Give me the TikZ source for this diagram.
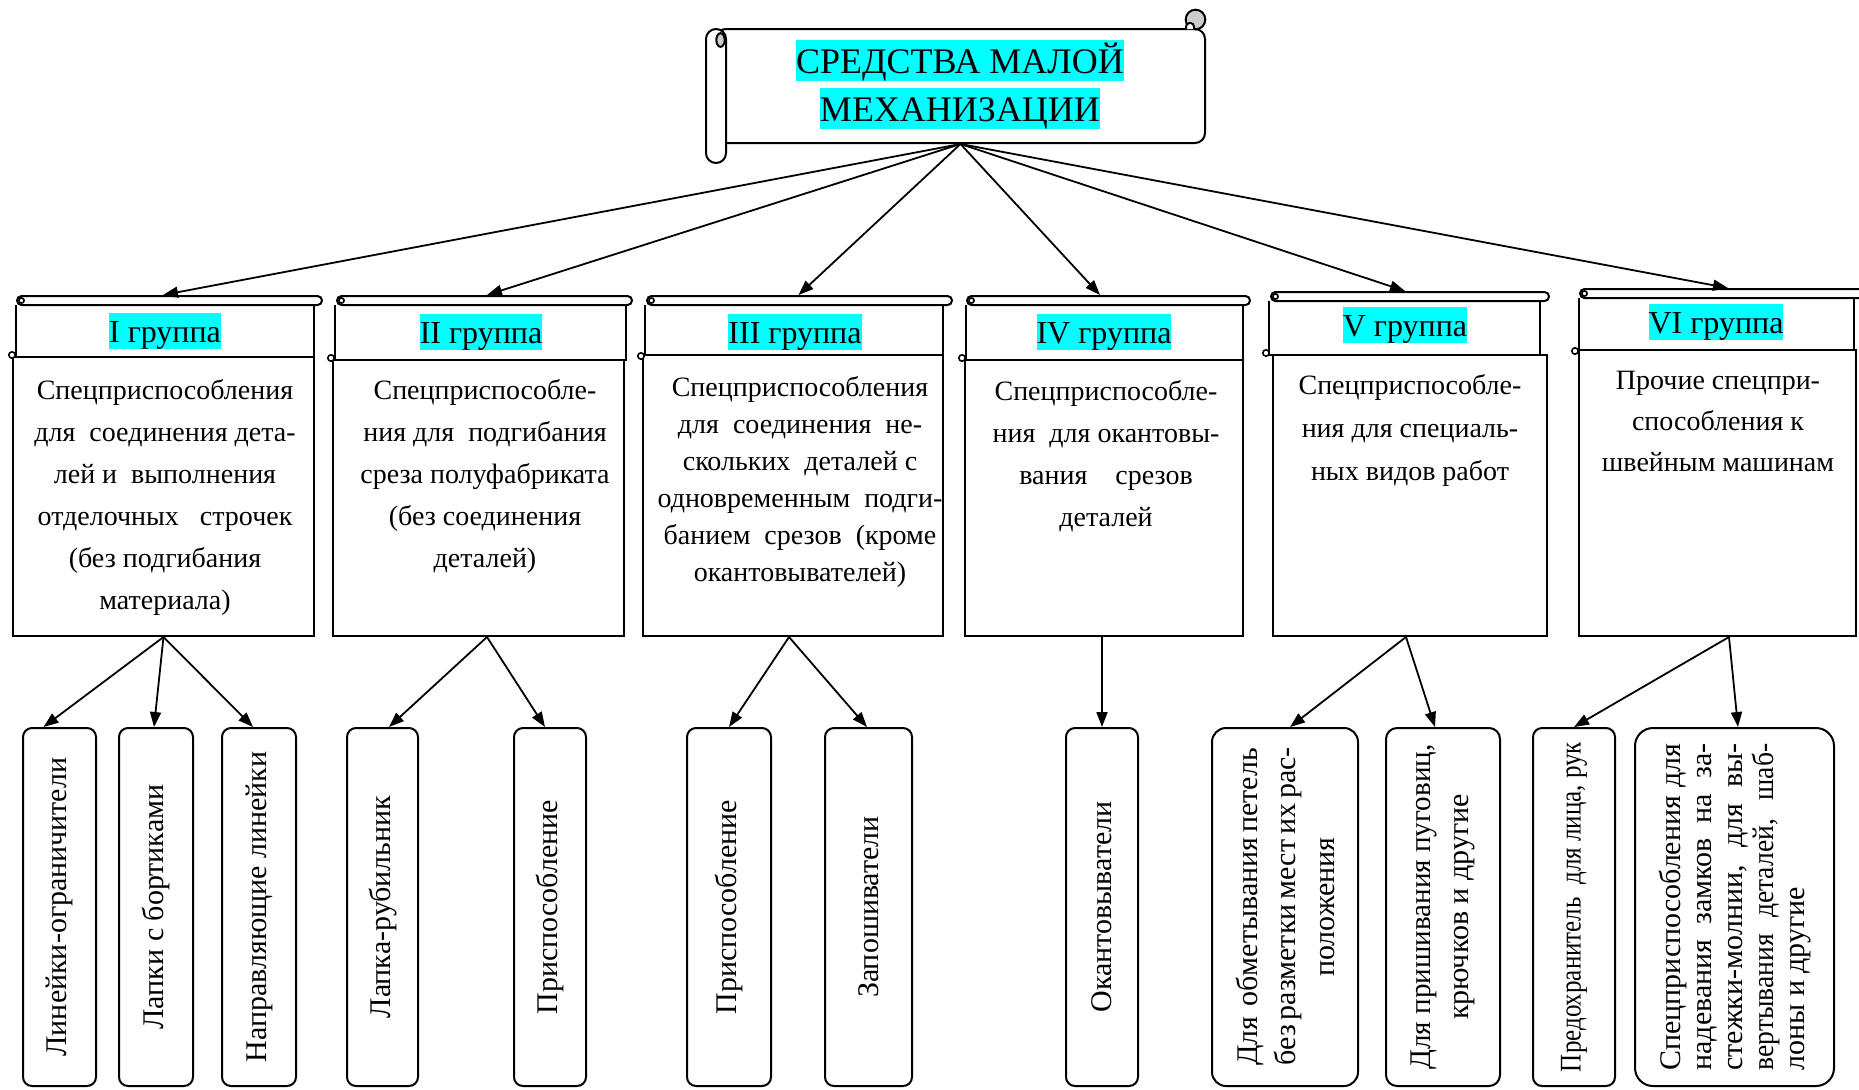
\documentclass[tikz,border=0pt]{standalone}
\usepackage{fontspec}
\setmainfont{Liberation Serif}
\usepackage{graphicx}
\usetikzlibrary{arrows.meta,fit}
\definecolor{hlcyan}{RGB}{0,255,255}
\definecolor{curlgray}{RGB}{205,205,205}
\newcommand{\hlt}[1]{{\setlength{\fboxsep}{0pt}\colorbox{hlcyan}{\rule[-0.23em]{0pt}{1.15em}#1}}}
\newcommand{\tsx}{\rule{0pt}{0.75em}}
% group header: #1 name, #2 pL, #3 pR, #4 pT, #5 pB, #6 hL, #7 hR, #8 hB
\newcommand{\ghead}[8]{%
  \draw[fill=white] (#6,#5) -- (#6,#8) -- (#7,#8) -- (#7,#5);
  \draw[pill] (#2,#4) rectangle (#3,#5);
  \draw[curl] (#2+4.5,{(#4+#5)/2}) circle[radius=1.3pt];
  \node[hfit, fit={(#6,#4) (#3,#8)}] (#1) {};
}
\begin{document}
\begin{tikzpicture}[x=0.5pt,y=-0.5pt, line width=1pt,
  gbox/.style={draw, fill=white, inner sep=0pt},
  hfit/.style={inner sep=0pt},
  pill/.style={draw, fill=white, rounded corners=2.25pt},
  curl/.style={draw, fill=white, line width=0.8pt},
  htext/.style={inner sep=0pt, anchor=base, font=\fontsize{16}{19}\selectfont},
  btext/.style={inner sep=0pt, anchor=north, align=center, font=\fontsize{14}{21}\selectfont},
  bbox/.style={draw, fill=white, inner sep=0pt, rounded corners=4.5pt},
  vtext/.style={inner sep=0pt, rotate=90, align=center, font=\fontsize{15}{19}\selectfont},
  arr/.style={-{Triangle[length=7.5pt,width=5.5pt]}, line width=0.9pt}]

\fill[white] (0,0) rectangle (1859,1089);
\useasboundingbox (0,0) rectangle (1859,1089);

% ---------- title scroll ----------
\draw[fill=white, rounded corners=5pt] (716,29) -- (1205,29) -- (1205,143) -- (716,143) -- cycle;
\draw[fill=curlgray] (1195.5,19.5) circle[radius=4.9pt];
\draw[fill=white, rounded corners=1.8pt] (1186,29) -- (1186,23) -- (1194,23) -- (1194,29);
\draw[fill=white, rounded corners=5pt] (706,29) rectangle (726,163);
\draw[fill=curlgray] (720.5,40) ellipse[x radius=2.1pt, y radius=3.4pt];
\node[hfit, fit={(716,29) (1205,143)}] (scroll) {};
\node[inner sep=0pt, anchor=north, align=center, font=\fontsize{18}{24}\selectfont] (title) at (960,39)
  {\hlt{СРЕДСТВА МАЛОЙ}\\\hlt{МЕХАНИЗАЦИИ}};

% ---------- group headers ----------
\ghead{h1}{17}{322}{296}{305}{16}{314}{357}
\ghead{h2}{337}{632}{296}{305}{335}{626}{360}
\ghead{h3}{647}{952}{296}{305}{645}{943}{355}
\ghead{h4}{967}{1250}{296}{305}{966}{1243}{360}
\ghead{h5}{1271}{1549}{292}{301}{1269}{1540}{355}
\ghead{h6}{1580}{1880}{289}{298}{1579}{1854}{350}

% ---------- group bodies ----------
\node[gbox, fit={(13,357) (314,636)}] (g1) {};
\node[gbox, fit={(333,360) (624,636)}] (g2) {};
\node[gbox, fit={(643,355) (943,636)}] (g3) {};
\node[gbox, fit={(965,360) (1243,636)}] (g4) {};
\node[gbox, fit={(1273,355) (1547,636)}] (g5) {};
\node[gbox, fit={(1579,350) (1856,636)}] (g6) {};

\draw[curl] (12,355) circle[radius=1.6pt];
\draw[curl] (331,358) circle[radius=1.6pt];
\draw[curl] (641,356) circle[radius=1.6pt];
\draw[curl] (962,358) circle[radius=1.6pt];
\draw[curl] (1266,353) circle[radius=1.6pt];
\draw[curl] (1575,351) circle[radius=1.6pt];

\node[htext] (l1) at (165,342) {\hlt{I группа}};
\node[htext] (l2) at (481,343) {\hlt{II группа}};
\node[htext] (l3) at (795,343) {\hlt{III группа}};
\node[htext] (l4) at (1104,343) {\hlt{IV группа}};
\node[htext] (l5) at (1405,336) {\hlt{V группа}};
\node[htext] (l6) at (1716,333) {\hlt{VI группа}};

\node[btext] (t1) at (165,377) {\tsx Спецприспособления\\для\ \ соединения дета-\\лей и\ \ выполнения\\отделочных\ \ \ строчек\\(без подгибания\\материала)};
\node[btext] (t2) at (485,377) {\tsx Спецприспособле-\\ния для\ \ подгибания\\среза полуфабриката\\(без соединения\\деталей)};
\node[btext, font=\fontsize{14}{18.5}\selectfont] (t3) at (800,374) {\tsx Спецприспособления\\для\ \ соединения\ \ не-\\скольких\ \ деталей с\\одновременным\ \ подги-\\банием\ \ срезов\ \ (кроме\\окантовывателей)};
\node[btext] (t4) at (1106,378) {\tsx Спецприспособле-\\ния\ \ для окантовы-\\вания\ \ \ \ срезов\\деталей};
\node[btext, font=\fontsize{14}{21.5}\selectfont] (t5) at (1410,372) {\tsx Спецприспособле-\\ния для специаль-\\ных видов работ};
\node[btext, font=\fontsize{14}{20.5}\selectfont] (t6) at (1718,367) {\tsx Прочие спецпри-\\способления к\\швейным машинам};

% ---------- bottom boxes ----------
\node[bbox, fit={(23,728) (96,1086)}] (b1) {};
\node[bbox, fit={(119,728) (193,1086)}] (b2) {};
\node[bbox, fit={(222,728) (296,1086)}] (b3) {};
\node[bbox, fit={(347,728) (418,1086)}] (b4) {};
\node[bbox, fit={(514,728) (586,1086)}] (b5) {};
\node[bbox, fit={(687,728) (771,1086)}] (b6) {};
\node[bbox, fit={(825,728) (912,1086)}] (b7) {};
\node[bbox, fit={(1066,728) (1138,1086)}] (b8) {};
\node[bbox, rounded corners=7pt, fit={(1212,728) (1358,1086)}] (b9) {};
\node[bbox, rounded corners=5.5pt, fit={(1386,728) (1500,1086)}] (b10) {};
\node[bbox, fit={(1533,728) (1615,1086)}] (b11) {};
\node[bbox, rounded corners=9pt, fit={(1635,728) (1834,1086)}] (b12) {};

\node[vtext] (v1) at (b1.center) {Линейки-ограничители};
\node[vtext] (v2) at (b2.center) {Лапки с бортиками};
\node[vtext] (v3) at (b3.center) {Направляющие линейки};
\node[vtext] (v4) at (b4.center) {Лапка-рубильник};
\node[vtext] (v5) at (b5.center) {Приспособление};
\node[vtext] (v6) at (b6.center) {Приспособление};
\node[vtext] (v7) at (b7.center) {Запошиватели};
\node[vtext] (v8) at (b8.center) {Окантовыватели};
\node[vtext, font=\fontsize{15}{19.25}\selectfont] (v9) at (b9.center)
  {\makebox[158.5pt][s]{Для\ \ обметывания петель}\\\makebox[158.5pt][s]{без разметки мест их рас-}\\положения};
\node[vtext] (v10) at (b10.center) {\resizebox{162.5pt}{\height}{Для пришивания пуговиц,}\\крючков и другие};
\node[vtext] (v11) at (b11.center) {\resizebox{165pt}{\height}{Предохранитель\ \ для лица, рук}};
\node[vtext, align=left, font=\fontsize{15}{15.5}\selectfont] (v12) at (b12.center)
  {\makebox[163.5pt][s]{Спецприспособления для}\\\makebox[163.5pt][s]{надевания замков на за-}\\\makebox[163.5pt][s]{стежки-молнии, для вы-}\\\scalebox{0.92}[1]{\makebox[177.7pt][s]{вертывания деталей, шаб-}}\\лоны и другие};

% ---------- arrows ----------
\draw[arr] (scroll.south) -- ([xshift=-3pt]h1.north);
\draw[arr] (scroll.south) -- ([xshift=1.75pt]h2.north);
\draw[arr] (scroll.south) -- (h3.north);
\draw[arr] (scroll.south) -- ([xshift=-4pt]h4.north);
\draw[arr] (scroll.south) -- ([xshift=-2pt]h5.north);
\draw[arr] (scroll.south) -- ([xshift=-0.75pt]h6.north);

\draw[arr] (g1.south) -- ([xshift=-8pt]b1.north);
\draw[arr] (g1.south) -- ([xshift=-1pt]b2.north);
\draw[arr] (g1.south) -- ([xshift=-3pt]b3.north);
\draw[arr] ([xshift=4.25pt]g2.south) -- ([xshift=3.25pt]b4.north);
\draw[arr] ([xshift=4.25pt]g2.south) -- ([xshift=-2.5pt]b5.north);
\draw[arr] ([xshift=-2pt]g3.south) -- (b6.north);
\draw[arr] ([xshift=-2pt]g3.south) -- ([xshift=-0.75pt]b7.north);
\draw[arr] ([xshift=-1pt]g4.south) -- (b8.north);
\draw[arr] ([xshift=-2pt]g5.south) -- ([xshift=2.5pt]b9.north);
\draw[arr] ([xshift=-2pt]g5.south) -- ([xshift=-4pt]b10.north);
\draw[arr] ([xshift=5.75pt]g6.south) -- (b11.north);
\draw[arr] ([xshift=5.75pt]g6.south) -- ([xshift=1.75pt]b12.north);
\end{tikzpicture}
\end{document}
